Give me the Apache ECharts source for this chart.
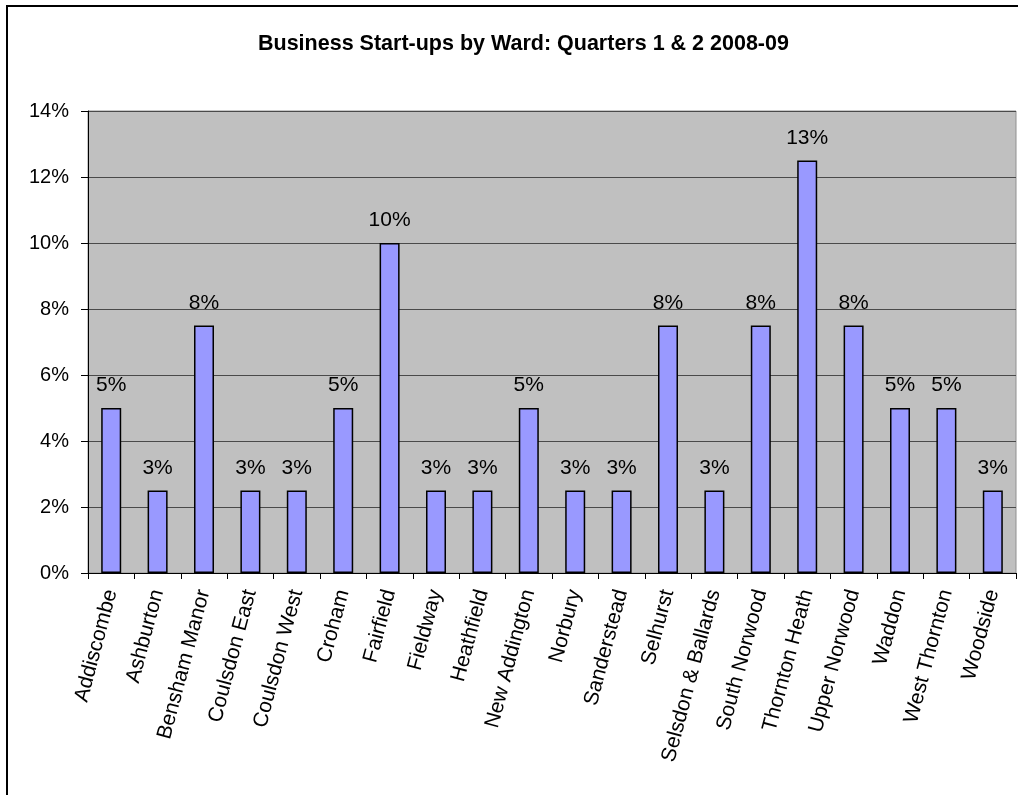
<!DOCTYPE html>
<html>
<head>
<meta charset="utf-8">
<script src="https://cdn.jsdelivr.net/npm/echarts@6/dist/echarts.min.js"></script>
<style>
  html, body { margin: 0; padding: 0; background: #fff; }
  #chart { width: 1018px; height: 795px; }
</style>
</head>
<body>
<div id="chart"></div>
<script>
// Wards and their share of business start-ups (%)
const wards = [
  'Addiscombe', 'Ashburton', 'Bensham Manor', 'Coulsdon East', 'Coulsdon West',
  'Croham', 'Fairfield', 'Fieldway', 'Heathfield', 'New Addington',
  'Norbury', 'Sanderstead', 'Selhurst', 'Selsdon & Ballards', 'South Norwood',
  'Thornton Heath', 'Upper Norwood', 'Waddon', 'West Thornton', 'Woodside'
];
const startupShare = [
  5, 2.5, 7.5, 2.5, 2.5,
  5, 10, 2.5, 2.5, 5,
  2.5, 2.5, 7.5, 2.5, 7.5,
  12.5, 7.5, 5, 5, 2.5
];
const yTicks = { min: 0, max: 14, step: 2 };
const titleText = 'Business Start-ups by Ward: Quarters 1 & 2 2008-09';

const font = '"Liberation Sans", Arial, Helvetica, sans-serif';
const chart = echarts.init(document.getElementById('chart'), null, { renderer: 'canvas' });

chart.setOption({
  animation: false,
  backgroundColor: '#ffffff',
  title: {
    text: titleText,
    left: 253,
    top: 28,
    textStyle: { fontFamily: font, fontSize: 21.5, fontWeight: 'bold', color: '#000' }
  },
  graphic: [{
    type: 'rect',
    shape: { x: 7, y: 6, width: 1030, height: 820 },
    style: { fill: 'none', stroke: '#000', lineWidth: 2 },
    z: 100
  }],
  grid: {
    left: 88, right: 2, top: 111, bottom: 222,
    show: true,
    backgroundColor: '#C0C0C0',
    borderColor: '#909090',
    borderWidth: 1
  },
  xAxis: {
    type: 'category',
    data: wards,
    axisLine: { lineStyle: { color: '#000', width: 1 } },
    axisTick: { show: true, length: 6, lineStyle: { color: '#000' } },
    axisLabel: {
      rotate: 75,
      margin: 17,
      interval: 0,
      fontFamily: font,
      fontSize: 21,
      color: '#000'
    },
    splitLine: { show: false }
  },
  yAxis: {
    type: 'value',
    min: yTicks.min,
    max: yTicks.max,
    interval: yTicks.step,
    axisLine: { show: true, lineStyle: { color: '#000', width: 1 } },
    axisTick: { show: true, length: 7, lineStyle: { color: '#000' } },
    axisLabel: {
      formatter: '{value}%',
      margin: 19,
      fontFamily: font,
      fontSize: 20,
      color: '#000'
    },
    splitLine: { show: true, lineStyle: { color: '#4a4a4a', width: 1 } }
  },
  series: [{
    type: 'bar',
    data: startupShare,
    barWidth: 20,
    itemStyle: { color: '#9999FF', borderColor: '#000', borderWidth: 1.5 },
    label: {
      show: true,
      position: 'top',
      distance: 12,
      formatter: p => Math.round(p.value) + '%',
      fontFamily: font,
      fontSize: 21,
      color: '#000'
    }
  }]
});
</script>
</body>
</html>
